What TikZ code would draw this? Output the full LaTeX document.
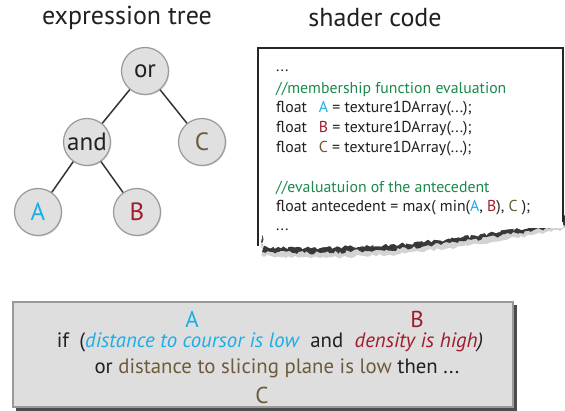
\documentclass[tikz,border=0pt]{standalone}
\usepackage{fontspec}
\setmainfont{PT Sans}
\usetikzlibrary{shadows,decorations.pathmorphing}
\definecolor{cA}{HTML}{1AAEE6}
\definecolor{cB}{HTML}{A01C2C}
\definecolor{cC}{HTML}{6E5B3C}
\definecolor{cG}{HTML}{1B8A4C}
\definecolor{txt}{HTML}{231F20}
\begin{document}
\begin{tikzpicture}[x=1pt,y=-1pt,
  tnode/.style={circle,draw=black!40,line width=1.2pt,fill=black!12,minimum size=47pt,inner sep=0pt,font=\fontsize{25}{27}\selectfont,text=txt,
    drop shadow={opacity=0.25,shadow xshift=1pt,shadow yshift=-1pt}},
  tedge/.style={draw=black!80,line width=1.5pt},
  title/.style={font=\fontsize{26}{28}\selectfont,text=txt},
  codeline/.style={anchor=west,inner sep=0pt,font=\fontsize{15.8}{18}\selectfont,text=txt},
  bline/.style={inner sep=0pt,font=\fontsize{20.8}{23}\selectfont,text=txt},
  blabel/.style={inner sep=0pt,font=\fontsize{23}{25}\selectfont}]
\useasboundingbox (0,0) rectangle (565,411);
% titles
\node[title] (t1) at (127,18) {expression tree};
\node[title] (t2) at (375,18) {shader code};
% tree
\node[tnode] (or) at (145,71) {or};
\node[tnode] (and) at (87,142) {and};
\node[tnode,text=cC] (C) at (202,142) {C};
\node[tnode,text=cA] (A) at (38,212) {A};
\node[tnode,text=cB] (B) at (137,212) {B};
\draw[tedge] (or) -- (and);
\draw[tedge] (or) -- (C);
\draw[tedge] (and) -- (A);
\draw[tedge] (and) -- (B);
% code box shadow (soft)
\pgfmathsetseed{5}
\fill[black!50,opacity=0.35,decorate,decoration={random steps,segment length=3pt,amplitude=1.5pt}]
  (262,235) -- (262,256) -- (320,258) -- (400,254) -- (450,248) -- (500,241) -- (540,233) -- (566,229) -- (566,215) -- cycle;
\pgfmathsetseed{7}
\fill[black!78,decorate,decoration={random steps,segment length=2.5pt,amplitude=1.8pt}]
  (262,236) -- (262,252) -- (320,253) -- (400,249) -- (450,243) -- (500,236) -- (540,229) -- (566,225) -- (566,215) -- cycle;
\pgfmathsetmacro{\dummy}{0}
\pgfmathsetseed{11}
\fill[white,decorate,decoration={random steps,segment length=2.5pt,amplitude=1.8pt}]
  (262,220) -- (262,247) -- (320,248) -- (400,244) -- (450,239) -- (500,232) -- (540,225) -- (563,221) -- (563,210) -- cycle;
\fill[white] (258,48) rectangle (563,228);
\draw[black!85,line width=1.2pt] (258,246) -- (258,48) -- (563,48) -- (563,222);
% code
\node[codeline] (l0) at (276,71) {...};
\node[codeline,text=cG] (l1) at (276,89) {//membership function evaluation};
\node[codeline] (l2) at (276,109) {float\hspace{0.75em}\textcolor{cA}{A} = texture1DArray(...);};
\node[codeline] (l3) at (276,129) {float\hspace{0.75em}\textcolor{cB}{B} = texture1DArray(...);};
\node[codeline] (l4) at (276,149) {float\hspace{0.75em}\textcolor{cC}{C} = texture1DArray(...);};
\node[codeline,text=cG] (l5) at (276,188) {//evaluatuion of the antecedent};
\node[codeline] (l6) at (276,208) {float antecedent = max( min(\textcolor{cA}{A}, \textcolor{cB}{B}), \textcolor{cC}{C} );};
\node[codeline] (l7) at (276,230) {...};
% bottom box
\fill[black!70] (16,305) rectangle (517,411);
\draw[black!40,line width=1.2pt,fill=black!13] (13,302) rectangle (513,407);
\node[bline] (r1) at (270,342) {if\hspace{0.5em}(\textcolor{cA}{\itshape distance to coursor is low}\hspace{0.55em}and\hspace{0.55em}\textcolor{cB}{\itshape density is high}{\itshape )}};
\node[bline] (r2) at (277,368) {or \textcolor{cC}{distance to slicing plane is low} then ...};
\node[blabel,text=cA] (la) at (192,319) {A};
\node[blabel,text=cB] (lb) at (417,319) {B};
\node[blabel,text=cC] (lc) at (262,395) {C};
\end{tikzpicture}
\end{document}
